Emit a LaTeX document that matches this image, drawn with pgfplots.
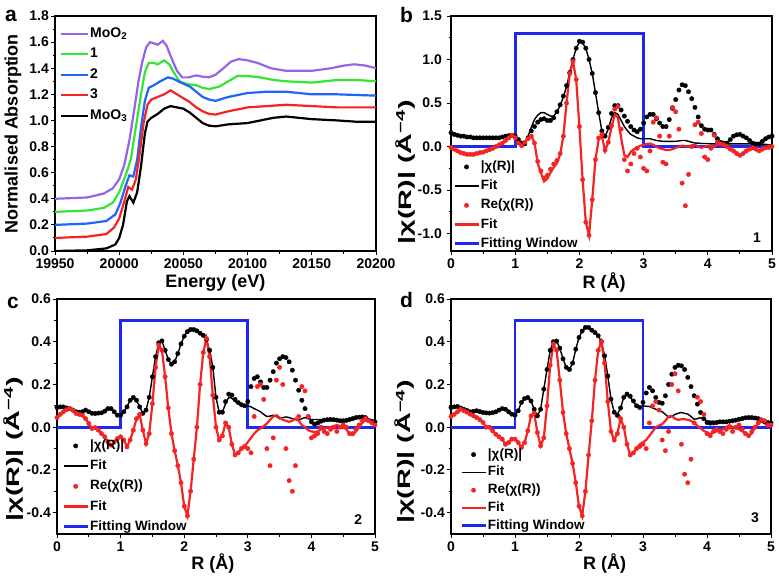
\documentclass[border=0pt]{standalone}
\usepackage{fontspec}
\setmainfont{Liberation Sans}
\usepackage{graphicx}
\usepackage{pgfplots}
\pgfplotsset{compat=1.18}
\usepackage{pgfplotstable}

\definecolor{cpurple}{RGB}{150,100,235}
\definecolor{cgreen}{RGB}{50,230,50}
\definecolor{cblue}{RGB}{30,100,255}
\definecolor{cred}{RGB}{245,35,35}
\definecolor{wblue}{RGB}{30,40,240}

\newcommand{\fs}[1]{\fontsize{#1bp}{#1bp}\selectfont\bfseries}

\pgfplotstableread{
R ad af rd rf
0.00 0.16 0.15 -0.01 -0.01
0.05 0.14 0.14 -0.03 -0.03
0.10 0.13 0.13 -0.05 -0.05
0.15 0.12 0.12 -0.07 -0.07
0.20 0.12 0.12 -0.08 -0.08
0.25 0.11 0.11 -0.09 -0.09
0.30 0.11 0.11 -0.09 -0.09
0.35 0.10 0.10 -0.09 -0.09
0.40 0.10 0.10 -0.08 -0.08
0.45 0.10 0.10 -0.07 -0.07
0.50 0.10 0.10 -0.065 -0.065
0.55 0.10 0.10 -0.05 -0.05
0.60 0.10 0.10 -0.035 -0.035
0.65 0.10 0.10 -0.02 -0.02
0.70 0.10 0.10 0.0 0.0
0.75 0.10 0.10 0.02 0.02
0.80 0.11 0.11 0.04 0.04
0.85 0.12 0.12 0.07 0.07
0.90 0.125 0.125 0.10 0.10
0.95 0.13 0.13 0.13 0.13
1.00 0.12 0.12 0.10 0.10
1.05 0.08 0.08 0.04 0.04
1.10 0.04 0.04 0.01 0.01
1.15 0.03 0.04 0.05 0.05
1.20 0.10 0.12 0.09 0.09
1.25 0.18 0.22 0.12 0.12
1.30 0.23 0.31 0.04 0.05
1.35 0.28 0.36 -0.17 -0.19
1.40 0.31 0.39 -0.28 -0.30
1.45 0.32 0.39 -0.36 -0.40
1.50 0.30 0.37 -0.33 -0.37
1.55 0.30 0.35 -0.26 -0.30
1.60 0.33 0.35 -0.20 -0.24
1.65 0.40 0.40 -0.16 -0.19
1.70 0.48 0.47 -0.08 -0.09
1.75 0.58 0.57 0.12 0.12
1.80 0.70 0.69 0.50 0.50
1.85 0.85 0.85 0.84 0.84
1.90 1.00 1.00 0.98 0.98
1.95 1.13 1.13 0.77 0.77
2.00 1.21 1.20 0.23 0.23
2.05 1.20 1.19 -0.38 -0.38
2.10 1.13 1.13 -0.87 -0.87
2.15 1.00 1.00 -1.02 -1.02
2.20 0.84 0.84 -0.61 -0.61
2.25 0.62 0.62 -0.15 -0.15
2.30 0.39 0.39 0.10 0.08
2.35 0.18 0.18 0.14 0.12
2.40 0.12 0.12 -0.04 -0.05
2.45 0.22 0.20 0.05 0.05
2.50 0.38 0.33 0.24 0.22
2.55 0.47 0.39 0.43 0.37
2.60 0.47 0.37 0.46 0.33
2.65 0.42 0.30 0.20 0.10
2.70 0.35 0.23 -0.15 -0.10
2.75 0.29 0.18 -0.28 -0.12
2.80 0.23 0.14 -0.20 -0.06
2.85 0.19 0.12 -0.08 -0.03
2.90 0.17 0.10 -0.02 -0.01
2.95 0.20 0.09 -0.12 0.01
3.00 0.27 0.09 -0.25 0.02
3.05 0.34 0.09 -0.28 0.03
3.10 0.37 0.09 -0.05 0.035
3.15 0.37 0.08 0.28 0.02
3.20 0.32 0.07 0.33 0.0
3.25 0.27 0.065 0.12 -0.02
3.30 0.23 0.06 -0.18 -0.03
3.35 0.23 0.06 -0.20 -0.04
3.40 0.31 0.06 0.12 -0.04
3.45 0.44 0.06 0.45 -0.03
3.50 0.54 0.06 0.40 -0.015
3.55 0.65 0.065 0.20 0.0
3.60 0.71 0.07 -0.42 0.01
3.65 0.70 0.07 -0.68 0.005
3.70 0.63 0.06 -0.32 0.0
3.75 0.55 0.05 0.0 0.01
3.80 0.45 0.04 0.25 0.02
3.85 0.34 0.04 0.28 0.0
3.90 0.24 0.035 0.15 -0.015
3.95 0.20 0.035 -0.12 0.0
4.00 0.19 0.035 -0.15 0.01
4.05 0.19 0.03 -0.02 0.005
4.10 0.14 0.03 0.13 0.0
4.15 0.09 0.03 0.05 0.02
4.20 0.05 0.03 0.03 0.035
4.25 0.04 0.03 0.02 0.02
4.30 0.04 0.03 0.0 0.0
4.35 0.08 0.03 -0.03 -0.03
4.40 0.12 0.03 -0.05 -0.05
4.45 0.135 0.03 -0.08 -0.08
4.50 0.14 0.03 -0.10 -0.10
4.55 0.12 0.03 -0.08 -0.08
4.60 0.10 0.03 -0.05 -0.05
4.65 0.07 0.03 -0.03 -0.03
4.70 0.04 0.03 -0.015 -0.015
4.75 0.03 0.025 -0.03 -0.03
4.80 0.03 0.025 -0.05 -0.05
4.85 0.06 0.025 -0.03 -0.03
4.90 0.09 0.025 -0.015 -0.015
4.95 0.11 0.02 -0.01 -0.01
5.00 0.12 0.02 0.0 0.0
}\tb

\pgfplotstableread{
R ad af rd rf
0.00 0.092 0.092 0.045 0.045
0.05 0.095 0.095 0.06 0.06
0.10 0.095 0.095 0.072 0.072
0.15 0.09 0.09 0.082 0.082
0.20 0.087 0.087 0.087 0.087
0.25 0.08 0.08 0.08 0.08
0.30 0.072 0.072 0.064 0.064
0.35 0.07 0.07 0.06 0.06
0.40 0.072 0.072 0.056 0.056
0.45 0.08 0.08 0.04 0.04
0.50 0.072 0.072 0.017 0.017
0.55 0.065 0.065 -0.006 -0.006
0.60 0.064 0.064 -0.002 -0.002
0.65 0.066 0.066 -0.014 -0.014
0.70 0.067 0.067 -0.03 -0.03
0.75 0.075 0.075 -0.045 -0.045
0.80 0.087 0.087 -0.069 -0.069
0.85 0.087 0.087 -0.084 -0.084
0.90 0.072 0.072 -0.069 -0.069
0.95 0.056 0.056 -0.053 -0.053
1.00 0.056 0.056 -0.045 -0.045
1.05 0.072 0.072 -0.06 -0.06
1.10 0.095 0.095 -0.092 -0.092
1.15 0.126 0.126 -0.06 -0.06
1.20 0.139 0.139 -0.014 -0.014
1.25 0.126 0.126 0.04 0.04
1.30 0.095 0.095 0.06 0.06
1.35 0.065 0.065 -0.014 -0.014
1.40 0.08 0.08 -0.077 -0.077
1.45 0.14 0.14 -0.03 -0.03
1.50 0.236 0.236 0.11 0.11
1.55 0.33 0.33 0.28 0.28
1.60 0.395 0.395 0.384 0.384
1.65 0.404 0.404 0.36 0.36
1.70 0.36 0.36 0.236 0.236
1.75 0.317 0.317 0.09 0.09
1.80 0.295 0.295 -0.03 -0.03
1.85 0.306 0.306 -0.11 -0.11
1.90 0.345 0.345 -0.18 -0.18
1.95 0.39 0.39 -0.26 -0.26
2.00 0.426 0.426 -0.37 -0.37
2.05 0.447 0.447 -0.415 -0.415
2.10 0.457 0.457 -0.30 -0.30
2.15 0.457 0.457 -0.15 -0.15
2.20 0.451 0.451 0.0 0.0
2.25 0.44 0.44 0.2 0.2
2.30 0.43 0.43 0.35 0.35
2.35 0.41 0.41 0.415 0.415
2.40 0.36 0.36 0.33 0.33
2.45 0.28 0.28 0.15 0.15
2.50 0.14 0.14 0.0 0.0
2.55 0.07 0.07 -0.06 -0.06
2.60 0.07 0.07 -0.04 -0.04
2.65 0.12 0.11 0.02 0.02
2.70 0.155 0.14 0.0 0.0
2.75 0.15 0.135 -0.08 -0.08
2.80 0.13 0.12 -0.13 -0.13
2.85 0.115 0.11 -0.12 -0.12
2.90 0.105 0.105 -0.10 -0.10
2.95 0.10 0.10 -0.09 -0.09
3.00 0.12 0.10 -0.10 -0.07
3.05 0.19 0.095 -0.12 -0.05
3.10 0.228 0.087 0.05 -0.03
3.15 0.236 0.08 0.19 -0.015
3.20 0.212 0.072 0.20 -0.006
3.25 0.186 0.06 0.13 0.005
3.30 0.186 0.05 -0.10 0.017
3.35 0.22 0.052 -0.18 0.035
3.40 0.26 0.056 -0.05 0.05
3.45 0.30 0.05 0.22 0.056
3.50 0.32 0.04 0.28 0.045
3.55 0.33 0.045 0.20 0.035
3.60 0.326 0.048 -0.10 0.03
3.65 0.306 0.045 -0.25 0.025
3.70 0.267 0.04 -0.30 0.03
3.75 0.22 0.035 -0.18 0.04
3.80 0.173 0.033 0.05 0.03
3.85 0.126 0.04 0.19 0.01
3.90 0.087 0.045 0.17 0.0
3.95 0.048 0.04 0.05 -0.014
4.00 0.025 0.036 -0.05 -0.02
4.05 0.014 0.036 -0.04 -0.022
4.10 0.02 0.036 -0.03 -0.02
4.15 0.028 0.035 0.0 -0.01
4.20 0.033 0.035 -0.02 -0.006
4.25 0.035 0.035 -0.03 -0.003
4.30 0.036 0.036 -0.01 0.0
4.35 0.035 0.035 0.0 0.005
4.40 0.033 0.033 -0.02 0.01
4.45 0.03 0.03 0.0 0.005
4.50 0.03 0.03 0.01 0.0
4.55 0.032 0.032 0.0 -0.01
4.60 0.036 0.036 -0.03 -0.03
4.65 0.04 0.04 -0.03 -0.037
4.70 0.045 0.045 -0.01 -0.02
4.75 0.047 0.047 0.01 0.0
4.80 0.048 0.048 0.03 0.02
4.85 0.045 0.045 0.04 0.033
4.90 0.033 0.033 0.03 0.03
4.95 0.028 0.028 0.02 0.025
5.00 0.025 0.025 0.01 0.01
}\tc

\pgfplotstableread{
R ad af rd rf
0.00 0.092 0.092 0.05 0.05
0.05 0.095 0.095 0.06 0.06
0.10 0.097 0.097 0.072 0.072
0.15 0.09 0.09 0.084 0.084
0.20 0.084 0.084 0.077 0.077
0.25 0.078 0.078 0.07 0.07
0.30 0.072 0.072 0.061 0.061
0.35 0.074 0.074 0.053 0.053
0.40 0.077 0.077 0.045 0.045
0.45 0.073 0.073 0.035 0.035
0.50 0.069 0.069 0.022 0.022
0.55 0.067 0.067 0.0 0.0
0.60 0.066 0.066 0.0 0.0
0.65 0.068 0.068 -0.017 -0.017
0.70 0.072 0.072 -0.033 -0.033
0.75 0.08 0.08 -0.045 -0.045
0.80 0.087 0.087 -0.056 -0.056
0.85 0.084 0.084 -0.08 -0.08
0.90 0.072 0.072 -0.072 -0.072
0.95 0.061 0.061 -0.056 -0.056
1.00 0.056 0.056 -0.056 -0.056
1.05 0.077 0.077 -0.072 -0.072
1.10 0.116 0.116 -0.095 -0.095
1.15 0.134 0.134 -0.072 -0.072
1.20 0.139 0.139 -0.017 -0.017
1.25 0.123 0.123 0.053 0.053
1.30 0.084 0.084 0.065 0.065
1.35 0.053 0.053 -0.025 -0.025
1.40 0.084 0.084 -0.087 -0.087
1.45 0.178 0.178 -0.05 -0.05
1.50 0.27 0.27 0.10 0.10
1.55 0.36 0.36 0.29 0.29
1.60 0.40 0.40 0.39 0.39
1.65 0.403 0.403 0.36 0.36
1.70 0.37 0.37 0.22 0.22
1.75 0.32 0.32 0.069 0.069
1.80 0.28 0.28 -0.03 -0.03
1.85 0.27 0.27 -0.10 -0.10
1.90 0.30 0.30 -0.17 -0.17
1.95 0.365 0.365 -0.26 -0.26
2.00 0.42 0.42 -0.37 -0.37
2.05 0.45 0.45 -0.415 -0.415
2.10 0.467 0.467 -0.30 -0.30
2.15 0.467 0.467 -0.13 -0.13
2.20 0.454 0.454 0.03 0.03
2.25 0.443 0.443 0.22 0.22
2.30 0.428 0.428 0.36 0.36
2.35 0.40 0.40 0.40 0.40
2.40 0.334 0.334 0.30 0.30
2.45 0.24 0.24 0.12 0.12
2.50 0.131 0.131 -0.02 -0.02
2.55 0.07 0.07 -0.06 -0.06
2.60 0.055 0.06 -0.03 -0.03
2.65 0.09 0.09 0.04 0.04
2.70 0.14 0.14 0.0 0.0
2.75 0.155 0.15 -0.08 -0.08
2.80 0.145 0.14 -0.13 -0.13
2.85 0.123 0.12 -0.12 -0.12
2.90 0.10 0.10 -0.10 -0.10
2.95 0.092 0.095 -0.09 -0.08
3.00 0.116 0.10 -0.08 -0.07
3.05 0.16 0.098 -0.10 -0.06
3.10 0.186 0.097 0.02 -0.04
3.15 0.17 0.09 0.10 -0.02
3.20 0.139 0.084 0.12 0.0
3.25 0.116 0.078 0.08 0.008
3.30 0.112 0.072 -0.06 0.014
3.35 0.147 0.06 -0.11 0.03
3.40 0.20 0.045 -0.02 0.05
3.45 0.248 0.05 0.20 0.053
3.50 0.28 0.06 0.25 0.04
3.55 0.29 0.065 0.17 0.034
3.60 0.287 0.069 -0.08 0.037
3.65 0.27 0.065 -0.22 0.037
3.70 0.233 0.061 -0.26 0.035
3.75 0.19 0.05 -0.15 0.03
3.80 0.147 0.037 0.02 0.02
3.85 0.108 0.04 0.14 0.006
3.90 0.069 0.045 0.12 -0.005
3.95 0.04 0.035 0.06 -0.017
4.00 0.022 0.03 -0.03 -0.025
4.05 0.019 0.028 -0.04 -0.033
4.10 0.02 0.027 -0.02 -0.025
4.15 0.022 0.025 -0.01 -0.02
4.20 0.025 0.025 -0.02 -0.015
4.25 0.025 0.025 -0.03 -0.01
4.30 0.025 0.025 -0.01 0.0
4.35 0.028 0.028 0.0 0.01
4.40 0.03 0.03 -0.02 0.0
4.45 0.033 0.033 0.0 -0.005
4.50 0.037 0.037 0.01 -0.01
4.55 0.04 0.04 -0.01 -0.02
4.60 0.044 0.044 -0.03 -0.025
4.65 0.045 0.045 -0.04 -0.04
4.70 0.045 0.045 -0.02 -0.03
4.75 0.043 0.043 0.0 0.0
4.80 0.04 0.04 0.02 0.015
4.85 0.033 0.033 0.035 0.03
4.90 0.025 0.025 0.03 0.02
4.95 0.022 0.022 0.01 0.006
5.00 0.02 0.02 0.01 0.01
}\td

\pgfplotsset{
  myaxis/.style={
    scale only axis, height=235bp,
    axis line style={line width=1.8bp},
    every tick/.style={line width=1bp, black},
    tick align=outside,
    major tick length=4bp, minor tick length=2.5bp,
    xtick pos=left, ytick pos=left,
    scaled x ticks=false, scaled y ticks=false,
    font=\fs{14},
    tick label style={font=\fs{14}},
    xticklabel style={inner sep=1bp, yshift=-2.5bp},
    yticklabel style={inner sep=2bp},
    /pgf/number format/assume math mode=true,
    label style={font=\fs{18}},
    xlabel style={anchor=center},
    ylabel style={anchor=center},
    legend image code/.code={\draw[mark repeat=2,mark phase=2,##1] plot coordinates {(0bp,0bp) (12bp,0bp) (24bp,0bp)};},
    legend cell align=left,
  },
  onedec/.style={yticklabel style={/pgf/number format/fixed,/pgf/number format/fixed zerofill,/pgf/number format/precision=1}},
  rax/.style={
    myaxis, onedec, xmin=0, xmax=5, xtick={0,1,2,3,4,5}, minor x tick num=1, minor y tick num=1,
    xlabel={R (Å)},
    ylabel={\scalebox{1.6}[1]{|χ(R)| (Å\textsuperscript{−4})}},
  },
  dat/.style={only marks, mark=*, mark size=2.2bp},
}

\begin{document}
\begin{tikzpicture}
\useasboundingbox (0bp,0bp) rectangle (779bp,-580bp);

% ---------- panel a ----------
\begin{axis}[myaxis, onedec, width=321bp, at={(55bp,-251bp)}, anchor=south west,
  xmin=19950, xmax=20200, ymin=0, ymax=1.8,
  xtick={19950,20000,20050,20100,20150,20200},
  ytick={0,0.2,0.4,0.6,0.8,1.0,1.2,1.4,1.6,1.8},
  minor x tick num=1, minor y tick num=1,
  xticklabel style={/pgf/number format/1000 sep={}, /pgf/number format/fixed},
  xlabel={Energy (eV)},
  ylabel={Normalised Absorption},
  xlabel style={at={(rel axis cs:0.5,-0.135)}},
  ylabel style={at={(rel axis cs:-0.131,0.50)}},
  legend image code/.code={\draw[#1] (0bp,0bp) -- (27bp,0bp);},
  legend style={draw=none, fill=none, inner sep=0pt, at={(rel axis cs:0.015,0.962)}, anchor=north west,
    font=\fs{14}, row sep=3.5bp, nodes={inner sep=1bp, text height=11bp, text depth=4bp}},
]
\addplot[cpurple, line width=2.2bp] coordinates {
(19950,0.4)(19975,0.41)(19988,0.44)(19995,0.48)(20000,0.55)(20004,0.66)(20008,0.85)(20012,1.1)(20015,1.3)(20018,1.45)(20021,1.56)(20024,1.6)(20027,1.59)(20030,1.58)(20034,1.61)(20037,1.57)(20041,1.47)(20045,1.38)(20049,1.33)(20054,1.33)(20060,1.345)(20065,1.335)(20070,1.33)(20075,1.35)(20080,1.39)(20087,1.45)(20093,1.47)(20100,1.46)(20108,1.44)(20118,1.4)(20130,1.38)(20150,1.38)(20165,1.4)(20175,1.42)(20183,1.43)(20192,1.42)(20200,1.4)};
\addlegendentry{MoO\textsubscript{2}}
\addplot[cgreen, line width=2.2bp] coordinates {
(19950,0.3)(19975,0.31)(19988,0.33)(19995,0.37)(20000,0.45)(20005,0.58)(20009,0.7)(20013,0.95)(20017,1.2)(20020,1.37)(20023,1.44)(20027,1.44)(20030,1.43)(20035,1.46)(20039,1.43)(20043,1.36)(20047,1.3)(20052,1.28)(20060,1.27)(20065,1.25)(20070,1.24)(20078,1.26)(20085,1.3)(20092,1.34)(20100,1.34)(20110,1.33)(20120,1.31)(20130,1.3)(20150,1.29)(20170,1.31)(20185,1.31)(20200,1.3)};
\addlegendentry{1}
\addplot[cblue, line width=2.2bp] coordinates {
(19950,0.2)(19975,0.21)(19990,0.23)(19997,0.28)(20001,0.37)(20005,0.5)(20008,0.58)(20011,0.57)(20014,0.7)(20017,0.95)(20020,1.15)(20023,1.25)(20027,1.27)(20032,1.3)(20038,1.33)(20042,1.32)(20048,1.29)(20055,1.26)(20060,1.22)(20065,1.18)(20070,1.16)(20075,1.15)(20085,1.18)(20100,1.21)(20115,1.22)(20130,1.22)(20150,1.2)(20170,1.2)(20200,1.19)};
\addlegendentry{2}
\addplot[cred, line width=2.2bp] coordinates {
(19950,0.1)(19975,0.11)(19990,0.13)(19996,0.18)(20000,0.25)(20004,0.38)(20007,0.49)(20010,0.47)(20013,0.55)(20016,0.75)(20019,0.98)(20022,1.12)(20025,1.16)(20030,1.18)(20035,1.2)(20040,1.23)(20045,1.2)(20050,1.17)(20055,1.14)(20060,1.1)(20065,1.07)(20070,1.05)(20075,1.045)(20085,1.07)(20100,1.1)(20115,1.11)(20130,1.12)(20150,1.11)(20170,1.1)(20190,1.1)(20200,1.1)};
\addlegendentry{3}
\addplot[black, line width=2.2bp] coordinates {
(19950,0.0)(19975,0.005)(19990,0.02)(19997,0.05)(20000,0.1)(20003,0.2)(20006,0.38)(20008,0.42)(20011,0.37)(20014,0.45)(20017,0.65)(20020,0.9)(20022,0.99)(20025,1.02)(20030,1.05)(20035,1.09)(20040,1.11)(20045,1.10)(20050,1.09)(20055,1.06)(20060,1.02)(20065,0.98)(20070,0.96)(20075,0.955)(20085,0.97)(20100,0.98)(20110,1.0)(20120,1.02)(20130,1.03)(20140,1.02)(20150,1.01)(20170,1.0)(20185,0.99)(20200,0.99)};
\addlegendentry{MoO\textsubscript{3}}
\end{axis}

% ---------- panel b ----------
\begin{axis}[rax, width=321bp, at={(451bp,-251bp)}, anchor=south west,
  ymin=-1.2, ymax=1.5, ytick={-1,-0.5,0,0.5,1,1.5},
  yticklabel style={xshift=-3bp},
  xlabel style={at={(rel axis cs:0.477,-0.135)}},
  ylabel style={at={(rel axis cs:-0.143,0.335)}},
  legend style={draw=none, fill=none, inner sep=0pt, at={(rel axis cs:0.006,-0.004)}, anchor=south west,
    font=\fs{13.5}, row sep=3.2bp, nodes={inner sep=1bp, text height=10.5bp, text depth=3.5bp}},
]
\addplot[wblue, line width=2.8bp, forget plot] coordinates {(0,0)(1,0)(1,1.3)(3,1.3)(3,0)(5,0)};
\addplot[dat, black] table[x=R,y=ad]{\tb}; \addlegendentry{|χ(R)|}
\addplot[black, line width=1.4bp] table[x=R,y=af]{\tb}; \addlegendentry{Fit}
\addplot[dat, cred] table[x=R,y=rd]{\tb}; \addlegendentry{Re(χ(R))}
\addplot[cred, line width=2.2bp] table[x=R,y=rf]{\tb}; \addlegendentry{Fit}
\addlegendimage{wblue, line width=2.8bp} \addlegendentry{Fitting Window}
\node[font=\fs{14}] at (rel axis cs:0.953,0.055) {1};
\end{axis}

% ---------- panel c ----------
\begin{axis}[rax, width=318bp, at={(57bp,-534bp)}, anchor=south west,
  ymin=-0.5, ymax=0.6, ytick={-0.4,-0.2,0,0.2,0.4,0.6},
  xlabel style={at={(rel axis cs:0.49,-0.125)}},
  ylabel style={at={(rel axis cs:-0.138,0.36)}},
  legend style={draw=none, fill=none, inner sep=0pt, at={(rel axis cs:0.016,-0.004)}, anchor=south west,
    font=\fs{13.5}, row sep=4.2bp, nodes={inner sep=1bp, text height=10.5bp, text depth=3.5bp}},
]
\addplot[wblue, line width=2.8bp, forget plot] coordinates {(0,0)(1,0)(1,0.5)(3,0.5)(3,0)(5,0)};
\addplot[dat, black] table[x=R,y=ad]{\tc}; \addlegendentry{|χ(R)|}
\addplot[black, line width=1.4bp] table[x=R,y=af]{\tc}; \addlegendentry{Fit}
\addplot[dat, cred] table[x=R,y=rd]{\tc}; \addlegendentry{Re(χ(R))}
\addplot[cred, line width=2.2bp] table[x=R,y=rf]{\tc}; \addlegendentry{Fit}
\addlegendimage{wblue, line width=2.8bp} \addlegendentry{Fitting Window}
\node[font=\fs{14}] at (rel axis cs:0.947,0.06) {2};
\end{axis}

% ---------- panel d ----------
\begin{axis}[rax, width=320bp, at={(451bp,-534bp)}, anchor=south west,
  ymin=-0.5, ymax=0.6, ytick={-0.4,-0.2,0,0.2,0.4,0.6},
  xlabel style={at={(rel axis cs:0.48,-0.125)}},
  ylabel style={at={(rel axis cs:-0.144,0.35)}},
  legend style={draw=none, fill=none, inner sep=0pt, at={(rel axis cs:0.028,0.0)}, anchor=south west,
    font=\fs{13.5}, row sep=1.8bp, nodes={inner sep=1bp, text height=10.5bp, text depth=3.5bp}},
]
\addplot[wblue, line width=2.8bp, forget plot] coordinates {(0,0)(1,0)(1,0.5)(3,0.5)(3,0)(5,0)};
\addplot[dat, black] table[x=R,y=ad]{\td}; \addlegendentry{|χ(R)|}
\addplot[black, line width=1.4bp] table[x=R,y=af]{\td}; \addlegendentry{Fit}
\addplot[dat, cred] table[x=R,y=rd]{\td}; \addlegendentry{Re(χ(R))}
\addplot[cred, line width=2.2bp] table[x=R,y=rf]{\td}; \addlegendentry{Fit}
\addlegendimage{wblue, line width=2.8bp} \addlegendentry{Fitting Window}
\node[font=\fs{14}] at (rel axis cs:0.95,0.068) {3};
\end{axis}

% panel letters
\node[font=\fs{21}, anchor=base west, inner sep=0pt] at (5bp,-21bp) {a};
\node[font=\fs{21}, anchor=base west, inner sep=0pt] at (400bp,-22bp) {b};
\node[font=\fs{21}, anchor=base west, inner sep=0pt] at (7bp,-308bp) {c};
\node[font=\fs{21}, anchor=base west, inner sep=0pt] at (400bp,-307bp) {d};
\end{tikzpicture}
\end{document}
